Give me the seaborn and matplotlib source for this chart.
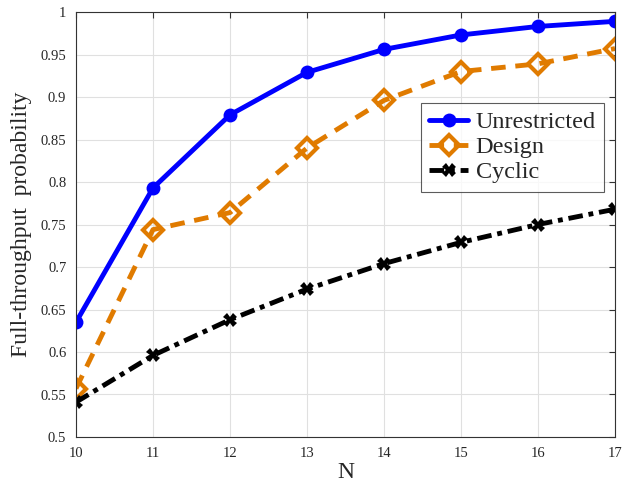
import numpy as np
import pandas as pd
import matplotlib
matplotlib.use("Agg")
import matplotlib.pyplot as plt
import seaborn as sns

n_values = [10, 11, 12, 13, 14, 15, 16, 17]
unrestricted = [0.635, 0.793, 0.879, 0.929, 0.956, 0.973, 0.983, 0.989]
design = [0.557, 0.744, 0.764, 0.840, 0.896, 0.930, 0.939, 0.957]
cyclic = [0.541, 0.596, 0.638, 0.674, 0.704, 0.729, 0.750, 0.768]

sns.set_style("white")
plt.rcParams['font.family'] = ['Liberation Serif', 'DejaVu Serif']

fig = plt.figure(figsize=(6.31, 4.87), dpi=100)
ax = fig.add_axes([76 / 631, 50 / 487, 539 / 631, 425 / 487])

df_u = pd.DataFrame({"N": n_values, "p": unrestricted})
df_d = pd.DataFrame({"N": n_values, "p": design})
df_c = pd.DataFrame({"N": n_values, "p": cyclic})

sns.lineplot(data=df_u, x="N", y="p", ax=ax, color="#0000ff", linewidth=3.5,
             marker="o", markersize=10, markeredgewidth=0, label="Unrestricted")
sns.lineplot(data=df_d, x="N", y="p", ax=ax, color="#e07b00", linewidth=3.5,
             dashes=(3, 2), marker="D", markersize=10, markerfacecolor="none",
             markeredgecolor="#e07b00", markeredgewidth=3, label="Design")
sns.lineplot(data=df_c, x="N", y="p", ax=ax, color="black", linewidth=3.5,
             dashes=(3, 1.2, 1, 1.2), marker="X", markersize=10, markeredgewidth=0,
             label="Cyclic")

ax.set_xlim(10, 17)
ax.set_ylim(0.5, 1.0)
ax.set_xticks(n_values)
ax.set_yticks(np.arange(0.5, 1.001, 0.05))
ax.set_yticklabels(["0.5", "0.55", "0.6", "0.65", "0.7", "0.75", "0.8", "0.85", "0.9", "0.95", "1"])
ax.grid(True, color="#e0e0e0", linewidth=0.8)
ax.tick_params(direction="in", top=True, right=True, labelsize=10.5, length=4,
               color="#333333", pad=7)
for s in ax.spines.values():
    s.set_color("#333333")
    s.set_linewidth(0.8)

ax.set_xlabel("N", fontsize=17, labelpad=2)
ax.set_ylabel("Full-throughput  probability", fontsize=17, labelpad=6)

leg = ax.legend(loc="upper right", bbox_to_anchor=(0.98, 0.786), borderaxespad=0,
                fontsize=17.5, frameon=True, fancybox=False, edgecolor="#333333",
                handlelength=1.6, handletextpad=0.3, borderpad=0.35, labelspacing=0.12)
leg.get_frame().set_linewidth(0.8)

fig.savefig("out.png", dpi=100)
